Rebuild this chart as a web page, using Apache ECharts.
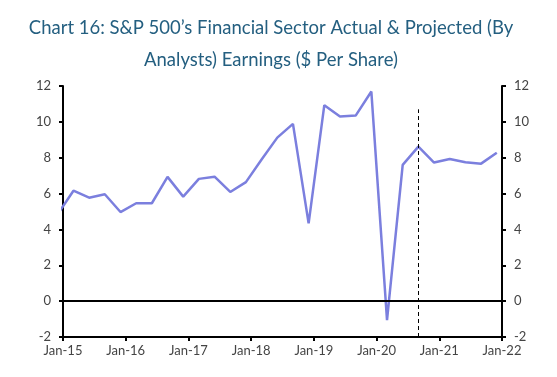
<!DOCTYPE html>
<html>
<head>
<meta charset="utf-8">
<script src="https://cdn.jsdelivr.net/npm/echarts@6/dist/echarts.min.js"></script>
<style>
  html, body { margin: 0; padding: 0; background: #fff; }
  #chart { width: 557px; height: 377px; }
</style>
</head>
<body>
<div id="chart"></div>
<script>
// quarterly EPS, dates as YYYY-MM
var dates = ['2014-12',
  '2015-03', '2015-06', '2015-09', '2015-12',
  '2016-03', '2016-06', '2016-09', '2016-12',
  '2017-03', '2017-06', '2017-09', '2017-12',
  '2018-03', '2018-06', '2018-09', '2018-12',
  '2019-03', '2019-06', '2019-09', '2019-12',
  '2020-03', '2020-06', '2020-09', '2020-12',
  '2021-03', '2021-06', '2021-09', '2021-12'];
var eps = [4.85,
  6.16, 5.77, 5.96, 4.97,
  5.46, 5.46, 6.93, 5.83,
  6.82, 6.94, 6.09, 6.64,
  7.9, 9.12, 9.89, 4.34,
  10.93, 10.3, 10.35, 11.69,
  -1.06, 7.6, 8.62, 7.73,
  7.93, 7.75, 7.67, 8.28];
var yTicks = [-2, 0, 2, 4, 6, 8, 10, 12];
var forecastStart = '2020-09';   // dashed line: actual vs projected
var forecastTop = 10.7;

function toYear(s) {
  var p = s.split('-');
  return +p[0] + (+p[1] - 1) / 12;
}

var seriesData = dates.map(function (d, i) { return [toYear(d), eps[i]]; });
var fx = toYear(forecastStart);

var labelFont = { color: '#444', fontSize: 13, fontFamily: 'Lato' };
var blackLine = { color: '#000', width: 2 };

function yAxisCfg(pos) {
  return {
    type: 'value',
    position: pos,
    min: yTicks[0],
    max: yTicks[yTicks.length - 1],
    interval: 2,
    axisLine: { show: true, lineStyle: blackLine },
    axisTick: { show: true, length: 4, lineStyle: blackLine },
    axisLabel: Object.assign({ margin: 12 }, labelFont),
    splitLine: { show: false }
  };
}

var chart = echarts.init(document.getElementById('chart'));
chart.setOption({
  animation: false,
  title: {
    text: 'Chart 16: S&P 500\u2019s Financial Sector Actual & Projected (By\nAnalysts) Earnings ($ Per Share)',
    left: 266,
    top: 7,
    textAlign: 'center',
    textStyle: { color: '#245f80', fontSize: 18.5, fontWeight: 'normal', fontFamily: 'Lato', lineHeight: 32 }
  },
  grid: { left: 63, right: 55, top: 86, bottom: 40 },
  xAxis: {
    type: 'value',
    min: 2015,
    max: 2022,
    interval: 1,
    axisLine: { show: true, onZero: false, lineStyle: blackLine },
    axisTick: { show: true, length: 4, lineStyle: blackLine },
    axisLabel: Object.assign({
      margin: 7,
      formatter: function (v) { return 'Jan-' + String(v).slice(2); }
    }, labelFont),
    splitLine: { show: false }
  },
  yAxis: [yAxisCfg('left'), yAxisCfg('right')],
  series: [{
    type: 'line',
    data: seriesData,
    symbol: 'none',
    lineStyle: { color: '#7b7fde', width: 2.5 },
    markLine: {
      silent: true,
      symbol: 'none',
      label: { show: false },
      data: [
        { yAxis: 0, lineStyle: { color: '#000', width: 2, type: 'solid' } },
        [
          { coord: [fx, yTicks[0]], lineStyle: { color: '#000', width: 1, type: [4, 3] } },
          { coord: [fx, forecastTop] }
        ]
      ]
    }
  }]
});
</script>
</body>
</html>
